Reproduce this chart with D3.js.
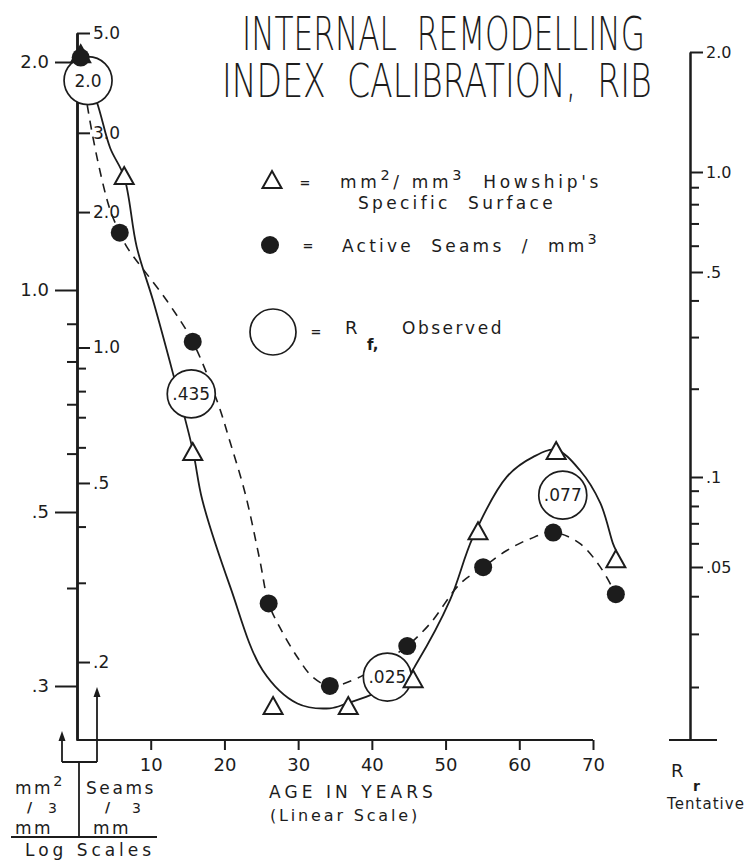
<!DOCTYPE html>
<html><head><meta charset="utf-8">
<script src="https://cdn.jsdelivr.net/npm/d3@7"></script>
<style>
body{margin:0;background:#fff;}
svg text{font-family:"DejaVu Sans",sans-serif;fill:#1c1c1c;}
</style></head><body>
<svg id="chart" width="746" height="862"></svg>
<script>
// ---------- data ----------
const triAge = [0.5, 6.4, 15.7, 26.6, 36.8, 45.6, 54.4, 65.0, 73.1];
const triVal = [2.04, 1.41, 0.601, 0.282, 0.282, 0.305, 0.471, 0.603, 0.434];
const dotAge = [0.5, 5.8, 15.7, 26.0, 34.3, 44.8, 55.1, 64.6, 73.1];
const dotVal = [4.41, 1.80, 1.03, 0.27, 0.177, 0.217, 0.325, 0.388, 0.283];

// hand-drawn fitted curves
const solidAge = [0.5, 2.7, 4.5, 6.4, 8.1, 10.3, 13.0, 15.7, 17.0, 20.8, 25.2, 29.9, 34.3, 36.6, 39.8, 44.8, 46.1, 50.6, 53.7, 58.3, 61.9, 65.0, 68.2, 71.0, 72.7, 73.1];
const solidVal = [2.0, 1.77, 1.54, 1.41, 1.14, 0.969, 0.772, 0.607, 0.519, 0.401, 0.314, 0.285, 0.281, 0.285, 0.292, 0.308, 0.321, 0.386, 0.464, 0.558, 0.594, 0.607, 0.570, 0.514, 0.456, 0.447];
const dashAge = [0.5, 1.4, 2.9, 4.5, 5.8, 6.8, 12.2, 15.7, 19.1, 20.8, 22.8, 24.8, 26.0, 27.5, 29.9, 32.0, 34.3, 38.0, 43.4, 44.8, 47.9, 52.0, 55.1, 58.3, 61.5, 64.6, 68.2, 71.0, 73.1];
const dashVal = [4.41, 3.45, 2.56, 2.02, 1.80, 1.67, 1.27, 1.03, 0.753, 0.614, 0.475, 0.337, 0.27, 0.239, 0.205, 0.185, 0.177, 0.184, 0.209, 0.217, 0.2435, 0.299, 0.325, 0.354, 0.376, 0.388, 0.367, 0.325, 0.283];

// R_f observed annotations (age, level on the mm2/mm3 scale, label)
const rfAge = [1.5, 15.5, 42.1, 65.9];
const rfLevel = [1.89, 0.723, 0.308, 0.527];
const rfLabel = ["2.0", ".435", ".025", ".077"];

const xTicks = [10, 20, 30, 40, 50, 60, 70];
const surfMajor = [2.0, 1.0, 0.5, 0.3];
const surfMajorLabels = ["2.0", "1.0", ".5", ".3"];
const surfMinor = [0.9, 0.8, 0.7, 0.6, 0.4];
const seamMajor = [5.0, 3.0, 2.0, 1.0, 0.5, 0.2];
const seamMajorLabels = ["5.0", "3.0", "2.0", "1.0", ".5", ".2"];
const seamMinor = [0.9, 0.8, 0.7, 0.6, 0.4, 0.3];
const rrMajor = [2.0, 1.0, 0.5, 0.1, 0.05];
const rrMajorLabels = ["2.0", "1.0", ".5", ".1", ".05"];
const rrMinor = [0.9, 0.8, 0.7, 0.6, 0.4, 0.3, 0.2, 0.09, 0.08, 0.07, 0.06, 0.04, 0.03, 0.02];

// ---------- scales ----------
const INK = "#1c1c1c";
const svg = d3.select("#chart");
const x = d3.scaleLinear().domain([0, 70]).range([77, 593]);
// hand-drawn log scales (piecewise log, as drawn)
const ySurf = d3.scaleLog().domain([2.18, 2.0, 1.0, 0.5, 0.3, 0.256]).range([33, 62, 290, 512, 686, 740]);
const ySeam = d3.scaleLog().domain([5.0, 0.1342]).range([33, 740]);
const yRr = d3.scaleLog().domain([2.0, 1.0, 0.5, 0.1, 0.05, 0.02, 0.0133]).range([52, 172, 272, 477, 567, 687, 740]);

function styleAxis(g, fs) {
  g.attr("font-family", null).attr("font-size", null);
  g.selectAll("path.domain").attr("stroke", INK).attr("stroke-width", 2);
  g.selectAll(".tick line").attr("stroke", INK).attr("stroke-width", 2);
  g.selectAll(".tick text").attr("font-size", fs).attr("fill", INK);
}
function minorAxis(g) { styleAxis(g, 10); g.selectAll(".tick text").remove(); }

// ---------- left combined axis ----------
const gL = svg.append("g").attr("transform", "translate(77,0)");
gL.append("g").call(d3.axisLeft(ySurf).tickValues(surfMinor).tickSize(10).tickSizeOuter(0)).call(minorAxis);
gL.append("g").call(d3.axisLeft(ySurf).tickValues(surfMajor).tickFormat((d, i) => surfMajorLabels[i]).tickSize(22).tickPadding(6).tickSizeOuter(0)).call(styleAxis, 18);
gL.append("g").call(d3.axisRight(ySeam).tickValues(seamMinor).tickSize(9).tickSizeOuter(0)).call(minorAxis);
gL.append("g").call(d3.axisRight(ySeam).tickValues(seamMajor).tickFormat((d, i) => seamMajorLabels[i]).tickSize(13).tickPadding(3).tickSizeOuter(0)).call(styleAxis, 17);

// ---------- x axis ----------
const gX = svg.append("g").attr("transform", "translate(0,740)")
  .call(d3.axisBottom(x).tickValues(xTicks).tickSize(10).tickPadding(8).tickSizeOuter(0))
  .call(styleAxis, 18);
gX.select("path.domain").attr("d", `M${x(0)},0H${x(70)}`);

// ---------- right axis ----------
const gR = svg.append("g").attr("transform", "translate(690,0)");
gR.append("g").call(d3.axisRight(yRr).tickValues(rrMinor).tickSize(9).tickSizeOuter(0)).call(minorAxis);
gR.append("g").call(d3.axisRight(yRr).tickValues(rrMajor).tickFormat((d, i) => rrMajorLabels[i]).tickSize(13).tickPadding(3).tickSizeOuter(0)).call(styleAxis, 16);
svg.append("line").attr("x1", 669).attr("x2", 717).attr("y1", 740).attr("y2", 740).attr("stroke", INK).attr("stroke-width", 2);

// ---------- curves ----------
const solidPts = solidAge.map((a, i) => [a, solidVal[i]]);
const dashPts = dashAge.map((a, i) => [a, dashVal[i]]);
svg.append("path").datum(solidPts)
  .attr("d", d3.line().x(d => x(d[0])).y(d => ySurf(d[1])).curve(d3.curveCatmullRom.alpha(0.5)))
  .attr("fill", "none").attr("stroke", INK).attr("stroke-width", 1.8);
svg.append("path").datum(dashPts)
  .attr("d", d3.line().x(d => x(d[0])).y(d => ySeam(d[1])).curve(d3.curveCatmullRom.alpha(0.5)))
  .attr("fill", "none").attr("stroke", INK).attr("stroke-width", 1.6).attr("stroke-dasharray", "9,7");

// ---------- R_f circles ----------
const rf = svg.append("g");
rfAge.forEach((a, i) => {
  const cx = x(a), cy = ySurf(rfLevel[i]);
  rf.append("circle").attr("cx", cx).attr("cy", cy).attr("r", 24)
    .attr("fill", "#fff").attr("stroke", INK).attr("stroke-width", 1.7);
  rf.append("text").attr("x", cx).attr("y", cy + 6).attr("text-anchor", "middle")
    .attr("font-size", 17).text(rfLabel[i]);
});

// ---------- markers ----------
const triPath = "M0,-10L9.5,7L-9.5,7Z";
svg.append("g").selectAll("path").data(triAge.map((a, i) => [a, triVal[i], i]))
  .join("path")
  .attr("d", triPath)
  .attr("transform", d => `translate(${x(d[0])},${ySurf(d[1])})`)
  .attr("fill", d => d[2] === 0 ? INK : "#fff")
  .attr("stroke", INK).attr("stroke-width", 2);
svg.append("g").selectAll("circle").data(dotAge.map((a, i) => [a, dotVal[i]]))
  .join("circle")
  .attr("cx", d => x(d[0])).attr("cy", d => ySeam(d[1])).attr("r", 9)
  .attr("fill", INK);

// ---------- helpers ----------
function fitSpacing(t, width) {
  t.attr("letter-spacing", 0);
  const w = t.node().getComputedTextLength();
  const n = t.text().length;
  t.attr("letter-spacing", Math.max(0, (width - w) / n));
  return t;
}
function fitScale(t, x0, width) {
  const w = t.node().getComputedTextLength();
  t.attr("x", 0).attr("transform", `translate(${x0},0) scale(${width / w},1)`);
  return t;
}
function richText(parent, xPos, yPos, parts, fs) {
  const t = parent.append("text").attr("x", xPos).attr("y", yPos).attr("font-size", fs)
    .style("white-space", "pre");
  let sup = false;
  parts.forEach(p => {
    const isSup = Array.isArray(p);
    const s = isSup ? p[0] : p;
    const ts = t.append("tspan").text(s);
    if (isSup && !sup) ts.attr("dy", -8);
    if (!isSup && sup) ts.attr("dy", 8);
    if (isSup) ts.attr("font-size", fs * 0.85);
    sup = isSup;
  });
  return t;
}

// ---------- title ----------
const title = svg.append("g").attr("font-size", 47).attr("font-weight", 200);
fitScale(title.append("text").attr("y", 50).style("white-space", "pre").text("INTERNAL  REMODELLING"), 242, 403);
fitScale(title.append("text").attr("y", 97).style("white-space", "pre").text("INDEX  CALIBRATION,  RIB"), 222, 430);

// ---------- legend ----------
const lg = svg.append("g");
lg.append("path").attr("d", triPath).attr("transform", "translate(272,181)")
  .attr("fill", "#fff").attr("stroke", INK).attr("stroke-width", 2);
lg.append("text").attr("x", 305).attr("y", 187).attr("font-size", 13).attr("font-weight", "bold").attr("text-anchor", "middle").text("=");
fitSpacing(richText(lg, 340, 188, ["mm", ["2"], "/ mm", ["3"], "  Howship's"], 17), 262);
fitSpacing(richText(lg, 358, 209, ["Specific  Surface"], 17), 198);
lg.append("circle").attr("cx", 270).attr("cy", 245).attr("r", 9).attr("fill", INK);
lg.append("text").attr("x", 308).attr("y", 250).attr("font-size", 13).attr("font-weight", "bold").attr("text-anchor", "middle").text("=");
fitSpacing(richText(lg, 342, 252, ["Active  Seams  /  mm", ["3"]], 17), 258);
lg.append("circle").attr("cx", 273).attr("cy", 332).attr("r", 23).attr("fill", "none").attr("stroke", INK).attr("stroke-width", 1.7);
lg.append("text").attr("x", 316).attr("y", 336).attr("font-size", 13).attr("font-weight", "bold").attr("text-anchor", "middle").text("=");
lg.append("text").attr("x", 345).attr("y", 334).attr("font-size", 18).text("R");
lg.append("text").attr("x", 367).attr("y", 350).attr("font-size", 15).attr("font-weight", "bold").text("f,");
fitSpacing(lg.append("text").attr("x", 402).attr("y", 334).attr("font-size", 17).text("Observed"), 102);

// ---------- axis titles ----------
fitSpacing(svg.append("text").attr("x", 269).attr("y", 798).attr("font-size", 17).text("AGE IN YEARS"), 168);
fitSpacing(svg.append("text").attr("x", 270).attr("y", 821).attr("font-size", 16).text("(Linear Scale)"), 150);
svg.append("text").attr("x", 671).attr("y", 777).attr("font-size", 18).text("R");
svg.append("text").attr("x", 693).attr("y", 791).attr("font-size", 14).attr("font-weight", "bold").text("r");
fitSpacing(svg.append("text").attr("x", 667).attr("y", 809).attr("font-size", 15).text("Tentative"), 78);

// bottom-left log-scale key
const kl = svg.append("g");
const ln = (x1, y1, x2, y2) => kl.append("line").attr("x1", x1).attr("y1", y1).attr("x2", x2).attr("y2", y2).attr("stroke", INK).attr("stroke-width", 1.8);
ln(62, 762, 97, 762);
ln(62, 762, 62, 738);
ln(97, 762, 97, 694);
ln(79, 762, 79, 837);
ln(11, 837, 157, 837);
kl.append("path").attr("d", "M62,731L58.5,741L65.5,741Z").attr("fill", INK);
kl.append("path").attr("d", "M97,687L93.5,697L100.5,697Z").attr("fill", INK);
fitSpacing(richText(kl, 15, 794, ["mm", ["2"]], 17), 50);
fitSpacing(kl.append("text").attr("x", 86).attr("y", 794).attr("font-size", 17).text("Seams"), 70);
kl.append("text").attr("x", 27).attr("y", 812).attr("font-size", 14).attr("font-weight", "bold").text("/");
kl.append("text").attr("x", 48).attr("y", 813).attr("font-size", 14).text("3");
fitSpacing(kl.append("text").attr("x", 15).attr("y", 834).attr("font-size", 17).text("mm"), 38);
kl.append("text").attr("x", 105).attr("y", 812).attr("font-size", 14).attr("font-weight", "bold").text("/");
kl.append("text").attr("x", 132).attr("y", 813).attr("font-size", 14).text("3");
fitSpacing(kl.append("text").attr("x", 93).attr("y", 834).attr("font-size", 17).text("mm"), 38);
fitSpacing(kl.append("text").attr("x", 25).attr("y", 856).attr("font-size", 17).text("Log  Scales"), 134);
</script>
</body></html>
